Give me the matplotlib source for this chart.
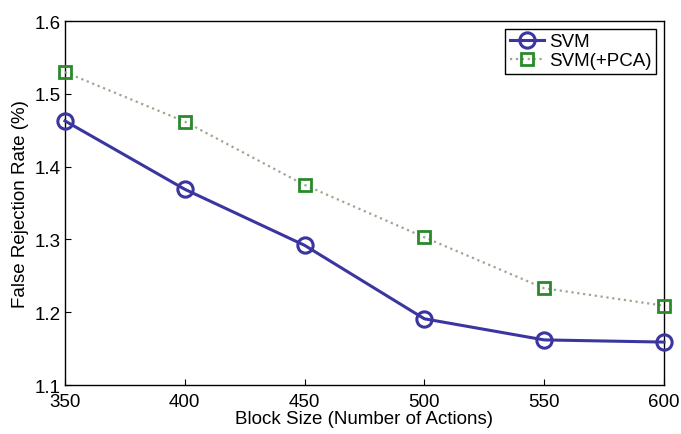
import numpy as np
import matplotlib.pyplot as plt

# block sizes and false rejection rates
block_size = [350, 400, 450, 500, 550, 600]
svm = [1.463, 1.369, 1.292, 1.191, 1.162, 1.159]
svm_pca = [1.530, 1.462, 1.375, 1.303, 1.233, 1.209]

plt.rcParams['font.family'] = ['Liberation Sans', 'DejaVu Sans']

fig = plt.figure(figsize=(6.81, 4.35), dpi=100)
ax = fig.add_axes([0.0954, 0.1126, 0.8796, 0.8364])

ax.plot(block_size, svm, '-o', color='#3b35a0', lw=2.2, ms=11,
        mfc='none', mew=2.2, label='SVM', clip_on=False, zorder=3)
ax.plot(block_size, svm_pca, ':s', color='#9aa890', lw=1.6, ms=8,
        mfc='none', mec='#2a8a2a', mew=2.0, label='SVM(+PCA)', clip_on=False, zorder=3)

ax.set_xlim(350, 600)
ax.set_ylim(1.1, 1.6)
ax.set_xticks([350, 400, 450, 500, 550, 600])
ax.set_yticks([1.1, 1.2, 1.3, 1.4, 1.5, 1.6])
ax.set_yticklabels(['1.1', '1.2', '1.3', '1.4', '1.5', '1.6'])
ax.tick_params(direction='in', labelsize=13.5, length=4, width=0.8)
ax.tick_params(axis='x', pad=6)
ax.tick_params(axis='y', pad=3)
for s in ax.spines.values():
    s.set_linewidth(1.0)

ax.set_xlabel('Block Size (Number of Actions)', fontsize=13.5, labelpad=0)
ax.set_ylabel('False Rejection Rate (%)', fontsize=13.5, labelpad=4)

leg = ax.legend(loc='upper right', fontsize=13.5, fancybox=False,
                edgecolor='black', framealpha=1, borderaxespad=0.4,
                handlelength=1.8, handletextpad=0.3, borderpad=0.25,
                labelspacing=0.1)
leg.get_frame().set_linewidth(1.0)

fig.savefig('out.png', dpi=100)
